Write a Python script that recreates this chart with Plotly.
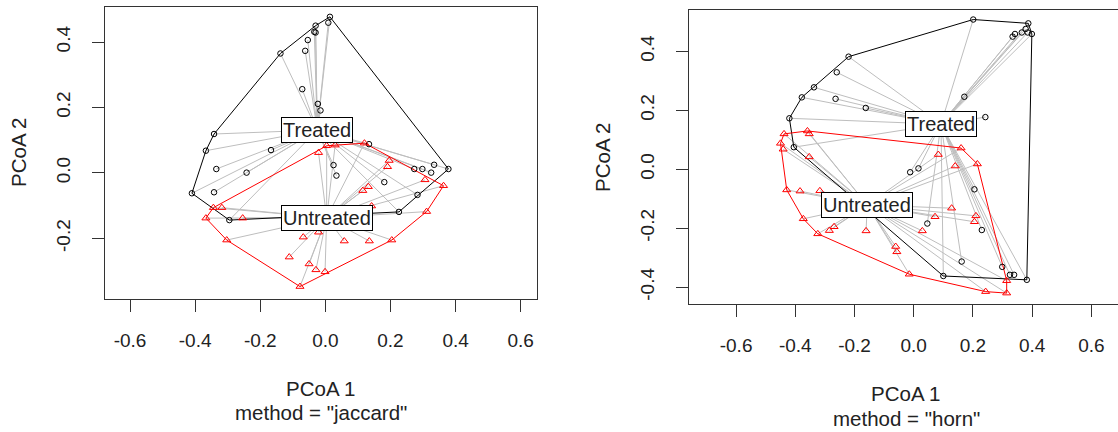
import plotly.graph_objects as go
import numpy as np

# ---------------- data ----------------
# method = "jaccard" (left panel)
jac_tr_x = [0.014, 0.009, -0.030, -0.034, -0.030, -0.054, -0.062, -0.138, -0.071, -0.023,
            -0.015, -0.342, -0.367, -0.167, 0.134, -0.335, -0.242, -0.342, -0.410, -0.295,
            0.025, 0.034, 0.378, 0.181, 0.273, 0.298, 0.325, 0.334, 0.283, 0.226]
jac_tr_y = [0.477, 0.459, 0.450, 0.431, 0.429, 0.406, 0.373, 0.365, 0.256, 0.211,
            0.191, 0.119, 0.068, 0.070, 0.088, 0.012, 0.001, -0.059, -0.062, -0.144,
            0.024, -0.008, 0.012, -0.028, 0.012, 0.012, 0.001, 0.025, -0.067, -0.119]
jac_un_x = [0.004, 0.030, -0.021, 0.120, 0.196, 0.191, 0.306, 0.363, 0.132, 0.115,
            0.142, 0.311, 0.204, 0.135, 0.058, -0.021, -0.068, -0.111, -0.050, -0.029,
            -0.001, -0.078, -0.303, -0.367, -0.344, -0.318, -0.254]
jac_un_y = [0.083, 0.085, 0.062, 0.091, 0.038, 0.019, -0.021, -0.039, -0.042, -0.054,
            -0.101, -0.118, -0.205, -0.208, -0.208, -0.181, -0.196, -0.257, -0.278, -0.296,
            -0.302, -0.347, -0.205, -0.138, -0.106, -0.106, -0.138]
jac_centroid_tr = [-0.025, 0.131]
jac_centroid_un = [0.004, -0.137]

# method = "horn" (right panel)
horn_tr_x = [0.201, 0.387, 0.378, 0.365, 0.385, 0.399, 0.342, 0.334, -0.220, -0.260,
             -0.337, -0.378, -0.264, -0.162, -0.420, 0.171, 0.242, -0.405, -0.012, 0.016,
             0.205, 0.230, 0.046, 0.162, 0.299, 0.325, 0.339, 0.382, 0.100]
horn_tr_y = [0.508, 0.495, 0.476, 0.464, 0.464, 0.459, 0.459, 0.450, 0.382, 0.329,
             0.278, 0.244, 0.239, 0.208, 0.173, 0.246, 0.177, 0.075, -0.010, 0.003,
             -0.068, -0.206, -0.184, -0.313, -0.331, -0.358, -0.358, -0.375, -0.362]
horn_un_x = [-0.438, -0.359, -0.353, -0.450, -0.441, 0.083, 0.160, -0.353, 0.215, 0.140,
             -0.429, -0.384, -0.317, -0.373, -0.324, -0.285, -0.269, -0.161, 0.029, 0.072,
             0.128, 0.210, 0.205, -0.061, -0.057, -0.015, 0.243, 0.314, 0.314]
horn_un_y = [0.120, 0.130, 0.120, 0.088, 0.068, 0.050, 0.072, 0.042, 0.018, 0.011,
             -0.070, -0.074, -0.073, -0.168, -0.219, -0.208, -0.195, -0.209, -0.209, -0.161,
             -0.132, -0.158, -0.178, -0.262, -0.280, -0.356, -0.415, -0.420, -0.378]
horn_centroid_tr = [0.092, 0.153]
horn_centroid_un = [-0.157, -0.121]

group_labels = ["Treated", "Untreated"]
tick_vals = [-0.6, -0.4, -0.2, 0.0, 0.2, 0.4, 0.6]
tick_text = ["-0.6", "-0.4", "-0.2", "0.0", "0.2", "0.4", "0.6"]
xlabel = "PCoA 1"
ylabel = "PCoA 2"
subtitles = ['method = "jaccard"', 'method = "horn"']

FONT = "Liberation Sans, Arial, sans-serif"
TXT = "#222222"
AX = "#333333"


def hull(xs, ys):
    pts = sorted(set(zip(xs, ys)))
    def cross(o, a, b):
        return (a[0]-o[0])*(b[1]-o[1]) - (a[1]-o[1])*(b[0]-o[0])
    lower, upper = [], []
    for p in pts:
        while len(lower) >= 2 and cross(lower[-2], lower[-1], p) <= 0:
            lower.pop()
        lower.append(p)
    for p in reversed(pts):
        while len(upper) >= 2 and cross(upper[-2], upper[-1], p) <= 0:
            upper.pop()
        upper.append(p)
    h = lower[:-1] + upper[:-1]
    h.append(h[0])
    return [p[0] for p in h], [p[1] for p in h]


def spokes(xs, ys, c):
    sx, sy = [], []
    for x, y in zip(xs, ys):
        sx += [x, c[0], None]
        sy += [y, c[1], None]
    return sx, sy


fig = go.Figure()

panels = [
    ("x", "y", jac_tr_x, jac_tr_y, jac_un_x, jac_un_y, jac_centroid_tr, jac_centroid_un),
    ("x2", "y2", horn_tr_x, horn_tr_y, horn_un_x, horn_un_y, horn_centroid_tr, horn_centroid_un),
]

for xa, ya, tx, ty, ux, uy, ctr, cun in panels:
    s1x, s1y = spokes(tx, ty, ctr)
    s2x, s2y = spokes(ux, uy, cun)
    fig.add_trace(go.Scatter(x=s1x + s2x, y=s1y + s2y, mode="lines",
                             line=dict(color="#BEBEBE", width=1),
                             xaxis=xa, yaxis=ya, hoverinfo="skip"))
    hx, hy = hull(tx, ty)
    fig.add_trace(go.Scatter(x=hx, y=hy, mode="lines", line=dict(color="black", width=1),
                             xaxis=xa, yaxis=ya, hoverinfo="skip"))
    hx, hy = hull(ux, uy)
    fig.add_trace(go.Scatter(x=hx, y=hy, mode="lines", line=dict(color="#FF0000", width=1),
                             xaxis=xa, yaxis=ya, hoverinfo="skip"))
    fig.add_trace(go.Scatter(x=tx, y=ty, mode="markers",
                             marker=dict(symbol="circle-open", size=5.5, color="black",
                                         line=dict(width=1, color="black")),
                             xaxis=xa, yaxis=ya))
    fig.add_trace(go.Scatter(x=ux, y=uy, mode="markers",
                             marker=dict(symbol="triangle-up-open", size=7, color="#FF0000",
                                         line=dict(width=1, color="#FF0000")),
                             xaxis=xa, yaxis=ya))
    for c, lab in zip([ctr, cun], group_labels):
        fig.add_annotation(x=c[0], y=c[1], xref=xa, yref=ya, text=lab, showarrow=False,
                           xanchor="center", yanchor="middle",
                           font=dict(family=FONT, size=20, color=TXT),
                           bgcolor="white", bordercolor="black", borderwidth=1, borderpad=1)

axis_common = dict(showgrid=False, zeroline=False, showline=True, linecolor=AX, linewidth=1,
                   ticks="outside", ticklen=12, tickwidth=1, tickcolor=AX,
                   tickvals=tick_vals, ticktext=tick_text,
                   tickfont=dict(family=FONT, size=19, color=TXT))

fig.update_layout(
    width=1118, height=432,
    margin=dict(l=0, r=0, t=0, b=0),
    paper_bgcolor="white", plot_bgcolor="white",
    showlegend=False,
    xaxis=dict(domain=[0.0939, 0.4803], range=[-0.677, 0.650], anchor="y", mirror=True,
               ticklabelstandoff=12, **axis_common),
    yaxis=dict(domain=[0.3079, 0.9838], range=[-0.385, 0.507], anchor="x", mirror=True,
               tickangle=-90, ticklabelstandoff=14, **axis_common),
    xaxis2=dict(domain=[0.6163, 1.0], range=[-0.759, 0.690], anchor="y2", mirror=True,
                ticklabelstandoff=12, **axis_common),
    yaxis2=dict(domain=[0.2963, 0.978], range=[-0.457, 0.542], anchor="x2", mirror=False,
                tickangle=-90, ticklabelstandoff=14, **axis_common),
)

for cx, y1, y2, sub in [(321, 388, 412, subtitles[0]), (906, 393, 418, subtitles[1])]:
    fig.add_annotation(x=cx / 1118, y=1 - y1 / 432, xref="paper", yref="paper", text=xlabel,
                       xanchor="center", yanchor="middle",
                       showarrow=False, font=dict(family=FONT, size=20.5, color=TXT))
    fig.add_annotation(x=cx / 1118, y=1 - y2 / 432, xref="paper", yref="paper", text=sub,
                       xanchor="center", yanchor="middle",
                       showarrow=False, font=dict(family=FONT, size=20.5, color=TXT))
for cx, cy in [(18, 152), (602, 157)]:
    fig.add_annotation(x=cx / 1118, y=1 - cy / 432, xref="paper", yref="paper", text=ylabel,
                       xanchor="center", yanchor="middle",
                       textangle=-90, showarrow=False, font=dict(family=FONT, size=20.5, color=TXT))

fig.write_html("out.html", config={"displayModeBar": False},
               post_script="document.body.style.margin='0';document.body.style.overflow='hidden';")
